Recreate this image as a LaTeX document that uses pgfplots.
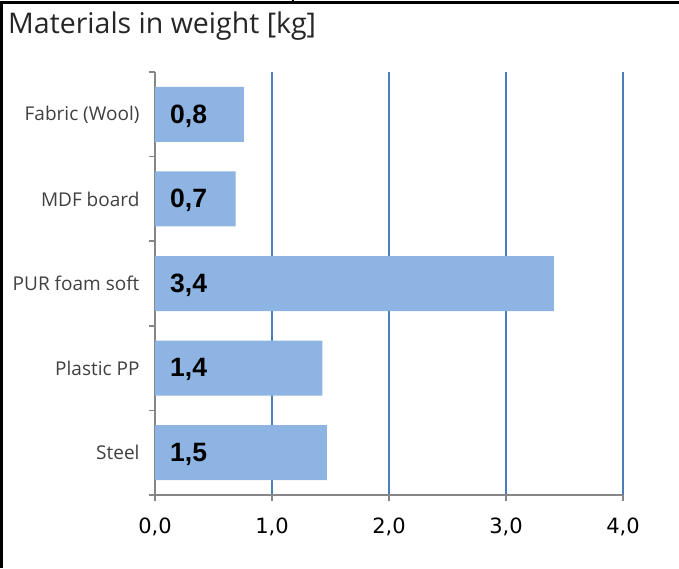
\documentclass[border=0pt]{standalone}
\usepackage{pgfplots}
\usepackage{pgfplotstable}
\pgfplotsset{compat=1.18}
\usepackage{fontspec}
\setmainfont{Open Sans}
\newfontfamily\tickfont{DejaVu Sans}
\newfontfamily\valfont{Liberation Sans}
\definecolor{barblue}{HTML}{8DB4E2}
\definecolor{gridblue}{HTML}{4A7EBB}
\definecolor{axgray}{HTML}{868686}
\definecolor{labgray}{HTML}{404040}
\pgfplotstableread{
pos val
5 0.76
4 0.69
3 3.41
2 1.43
1 1.47
}\data
\begin{document}
\begin{tikzpicture}
\useasboundingbox (0,0) rectangle (679pt,-568pt);
\fill[black] (0,-1pt) rectangle (679pt,-4pt);
\fill[black] (0,-1pt) rectangle (3pt,-568pt);
\fill[black] (292pt,0) rectangle (294pt,-4pt);
\node[anchor=base west, inner sep=0pt, font=\fontsize{28.5}{32}\selectfont, text=black!85] at (8pt,-33pt) {Materials in weight [kg]};
\begin{axis}[
  at={(155pt,-495pt)}, anchor=south west,
  scale only axis, width=468pt, height=423pt,
  xmin=0, xmax=4, ymin=0.5, ymax=5.5,
  axis x line*=bottom, axis y line*=left,
  axis line style={axgray, line width=1.5pt},
  xtick={0,1,2,3,4},
  xmajorgrids, grid style={gridblue, line width=1.5pt},
  tick align=outside, major tick length=6pt, minor tick length=6pt,
  tick style={axgray, line width=1.5pt},
  ytick={1,2,3,4,5},
  yticklabels={Steel, Plastic PP, PUR foam soft, MDF board, Fabric (Wool)},
  minor ytick={0.5,1.5,2.5,3.5,4.5,5.5},
  major y tick style={draw=none},
  yticklabel style={font=\fontsize{19}{22}\selectfont, text=labgray, xshift=-6pt},
  xticklabel style={font=\tickfont\fontsize{21}{24}\selectfont, text=black, yshift=-13pt,
    /pgf/number format/fixed, /pgf/number format/fixed zerofill,
    /pgf/number format/precision=1, /pgf/number format/use comma,
    /pgf/number format/assume math mode=true},
  clip=false,
]
\addplot[xbar, bar width=55pt, fill=barblue, draw=none] table[x=val, y=pos]{\data};
\addplot[draw=none, mark=none, nodes near coords, point meta=explicit,
  nodes near coords style={anchor=west, inner sep=0pt, xshift=15pt, yshift=-1.5pt, text=black,
    font=\valfont\bfseries\fontsize{26.5}{30}\selectfont,
    /pgf/number format/fixed, /pgf/number format/fixed zerofill,
    /pgf/number format/precision=1, /pgf/number format/use comma,
    /pgf/number format/assume math mode=true}]
  table[x expr=0, y=pos, meta=val]{\data};
\end{axis}
\end{tikzpicture}
\end{document}
